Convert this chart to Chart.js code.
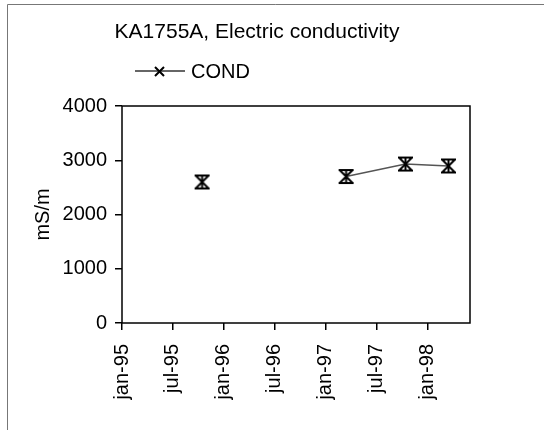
<!DOCTYPE html>
<html>
<head>
<meta charset="utf-8">
<script src="https://cdn.jsdelivr.net/npm/chart.js@4/dist/chart.umd.min.js"></script>
<style>
  html, body { margin: 0; padding: 0; background: #fff; }
  canvas { display: block; }
</style>
</head>
<body>
<canvas id="chart" width="544" height="430"></canvas>
<script>
// sample dates and conductivity (mS/m), null breaks the line
const sampleDates = ["1995-10-14", "1996-06-15", "1997-03-13", "1997-10-13", "1998-03-15"];
const condValues = [2600, null, 2700, 2930, 2895];
const tickLabels = ["jan-95", "jul-95", "jan-96", "jul-96", "jan-97", "jul-97", "jan-98"];
const yTicks = [0, 1000, 2000, 3000, 4000];

const FONT = "'Liberation Sans', Arial, sans-serif";

// months since jan-95
function toMonths(s) {
    const p = s.split("-").map(Number);
    return (p[0] - 1995) * 12 + (p[1] - 1) + (p[2] - 1) / 30;
}

// X marker with caps (error bar look)
function makeMarker(size, caps) {
    const c = document.createElement("canvas");
    c.width = size; c.height = size;
    const g = c.getContext("2d");
    g.strokeStyle = "#000";
    g.lineWidth = 2;
    const a = 2, b = size - 2;
    g.beginPath();
    g.moveTo(a, a); g.lineTo(b, b);
    g.moveTo(b, a); g.lineTo(a, b);
    if (caps) {
        g.moveTo(a - 1, a); g.lineTo(b + 1, a);
        g.moveTo(a - 1, b); g.lineTo(b + 1, b);
        g.moveTo(size / 2, a); g.lineTo(size / 2, b);
    }
    g.stroke();
    return c;
}
const pointImg = makeMarker(17, true);
const legendImg = makeMarker(13, false);

const points = sampleDates.map((d, i) => ({ x: toMonths(d), y: condValues[i] }));

const frame = {
    id: "frame",
    beforeDraw(chart) {
        const ctx = chart.ctx;
        ctx.save();
        ctx.fillStyle = "#fff";
        ctx.fillRect(0, 0, chart.width, chart.height);
        ctx.strokeStyle = "#777";
        ctx.lineWidth = 1;
        ctx.beginPath();
        ctx.moveTo(7.5, 430); ctx.lineTo(7.5, 4.5); ctx.lineTo(544, 4.5);
        ctx.stroke();
        ctx.restore();
    },
    beforeDatasetsDraw(chart) {
        const a = chart.chartArea, ctx = chart.ctx;
        ctx.save();
        ctx.strokeStyle = "#000";
        ctx.lineWidth = 1.5;
        ctx.strokeRect(a.left, a.top, a.right - a.left, a.bottom - a.top);
        ctx.restore();
    },
    afterDraw(chart) {
        const ctx = chart.ctx;
        ctx.save();
        ctx.fillStyle = "#000";
        ctx.font = "21px " + FONT;
        ctx.textAlign = "center";
        ctx.textBaseline = "alphabetic";
        ctx.fillText("KA1755A, Electric conductivity", 257, 38);
        // legend
        ctx.strokeStyle = "#333";
        ctx.lineWidth = 1.5;
        ctx.beginPath();
        ctx.moveTo(135, 71); ctx.lineTo(185, 71);
        ctx.stroke();
        ctx.drawImage(legendImg, 153, 65);
        ctx.font = "20px " + FONT;
        ctx.textAlign = "left";
        ctx.fillText(chart.data.datasets[0].label, 191, 78);
        ctx.restore();
    }
};

new Chart(document.getElementById("chart"), {
    type: "line",
    data: {
        datasets: [{
            label: "COND",
            data: points,
            borderColor: "#555",
            borderWidth: 1.5,
            pointStyle: pointImg,
            spanGaps: false,
        }],
    },
    options: {
        responsive: false,
        animation: false,
        devicePixelRatio: 1,
        layout: { padding: { left: 0, top: 106, right: 74, bottom: 0 } },
        plugins: {
            legend: { display: false },
            title: { display: false },
            tooltip: { enabled: false },
        },
        scales: {
            x: {
                type: "linear",
                min: 0,
                max: 41,
                afterBuildTicks(scale) {
                    scale.ticks = tickLabels.map((_, i) => ({ value: i * 6 }));
                },
                afterFit(scale) { scale.height = 107; },
                border: { display: false },
                grid: { drawOnChartArea: false, tickLength: 7, color: "#000", lineWidth: 1.5 },
                ticks: {
                    minRotation: 90,
                    maxRotation: 90,
                    padding: 14,
                    color: "#000",
                    font: { family: FONT, size: 20 },
                    callback: (v) => tickLabels[Math.round(v / 6)],
                },
            },
            y: {
                min: 0,
                max: 4000,
                afterBuildTicks(scale) {
                    scale.ticks = yTicks.map((v) => ({ value: v }));
                },
                afterFit(scale) { scale.width = 122; },
                border: { display: false },
                grid: { drawOnChartArea: false, tickLength: 7, color: "#000", lineWidth: 1.5 },
                ticks: {
                    padding: 8,
                    color: "#000",
                    font: { family: FONT, size: 20 },
                    callback: (v) => String(v),
                },
                title: {
                    display: true,
                    text: "mS/m",
                    color: "#000",
                    font: { family: FONT, size: 20 },
                    padding: { top: 31, bottom: 0 },
                },
            },
        },
    },
    plugins: [frame],
});
</script>
</body>
</html>
